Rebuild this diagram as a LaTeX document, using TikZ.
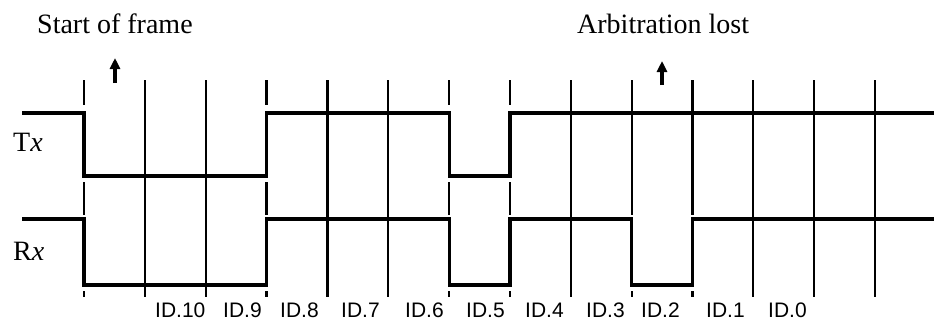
\documentclass[tikz,border=0pt]{standalone}
\usepackage{fontspec}
\setmainfont{Liberation Serif}
\newfontfamily\lsans{Liberation Sans}
\usetikzlibrary{arrows.meta}
\begin{document}
\begin{tikzpicture}[x=1pt,y=-1pt,
  gridline/.style={line width=2.2pt},
  sig/.style={line width=3.2pt, line join=miter, line cap=butt},
  ttl/.style={font=\fontsize{28}{31}\selectfont, inner sep=0pt, anchor=base west},
  idl/.style={font=\lsans\fontsize{21}{24}\selectfont, inner sep=0pt, anchor=base west},
  evarrow/.style={line width=3.2pt, -{Triangle[width=10pt,length=11pt]}}]
\useasboundingbox (0,0) rectangle (934,324);
% grid lines
\foreach \i in {1,2,4,5,8,11,12,13}{
  \pgfmathsetmacro\gx{84+60.85*\i}
  \draw[gridline] (\gx,80) -- (\gx,297);
}
\foreach \i in {0,3,6,7}{
  \pgfmathsetmacro\gx{84+60.85*\i}
  \draw[gridline] (\gx,80) -- (\gx,105);
  \draw[gridline] (\gx,182) -- (\gx,215);
  \draw[gridline] (\gx,291) -- (\gx,297);
}
\foreach \i in {9,10}{
  \pgfmathsetmacro\gx{84+60.85*\i}
  \draw[gridline] (\gx,80) -- (\gx,215);
  \draw[gridline] (\gx,291) -- (\gx,297);
}
% signals
\draw[sig] (22,113) -- (84,113) -- (84,176) -- (266.55,176) -- (266.55,113)
  -- (449.1,113) -- (449.1,176) -- (510,176) -- (510,113) -- (934,113);
\draw[sig] (22,219) -- (84,219) -- (84,285) -- (266.55,285) -- (266.55,219)
  -- (449.1,219) -- (449.1,285) -- (510,285) -- (510,219) -- (631.65,219)
  -- (631.65,285) -- (692.5,285) -- (692.5,219) -- (934,219);
% titles
\node[ttl] (sof) at (37,33) {Start of frame};
\node[ttl] (arb) at (577,33) {Arbitration lost};
\node[ttl] (tx) at (13,151) {T\textit{x}};
\node[ttl] (rx) at (13,260) {R\textit{x}};
% event arrows
\coordinate (a1s) at (115,83);
\coordinate (a1e) at (115,58);
\coordinate (a2s) at (662,85);
\coordinate (a2e) at (662,61);
\draw[evarrow] (a1s) -- (a1e);
\draw[evarrow] (a2s) -- (a2e);
% ID labels
\node[idl] (id10) at (155,317) {ID.10};
\node[idl] (id9) at (223,317) {ID.9};
\node[idl] (id8) at (280,317) {ID.8};
\node[idl] (id7) at (341,317) {ID.7};
\node[idl] (id6) at (405,317) {ID.6};
\node[idl] (id5) at (466,317) {ID.5};
\node[idl] (id4) at (525,317) {ID.4};
\node[idl] (id3) at (586,317) {ID.3};
\node[idl] (id2) at (641,317) {ID.2};
\node[idl] (id1) at (706,317) {ID.1};
\node[idl] (id0) at (768,317) {ID.0};
\end{tikzpicture}
\end{document}
